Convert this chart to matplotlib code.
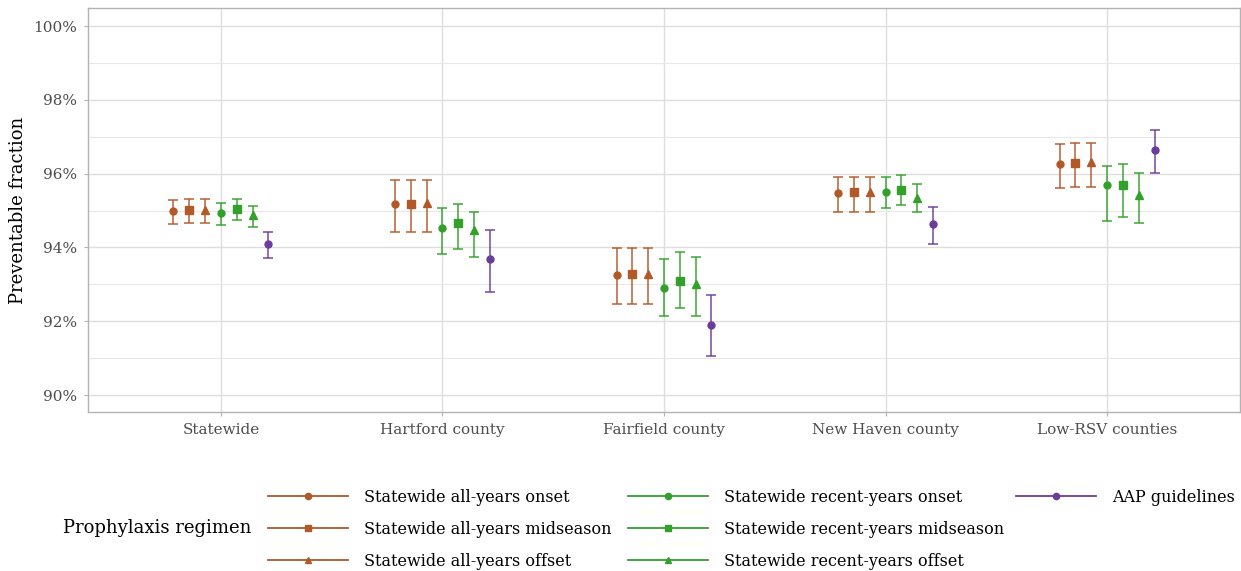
import numpy as np
import matplotlib.pyplot as plt
from matplotlib.lines import Line2D
from matplotlib.ticker import FuncFormatter, MultipleLocator

plt.rcParams['font.family'] = ['DejaVu Serif']

# Datos
regiones = ['Statewide', 'Hartford county', 'Fairfield county', 'New Haven county', 'Low-RSV counties']
regimenes = ['Statewide all-years onset', 'Statewide all-years midseason', 'Statewide all-years offset',
             'Statewide recent-years onset', 'Statewide recent-years midseason', 'Statewide recent-years offset',
             'AAP guidelines']
colores = ['#B15928', '#B15928', '#B15928', '#33A02C', '#33A02C', '#33A02C', '#6A3D9A']
marcadores = ['o', 's', '^', 'o', 's', '^', 'o']

# estimacion por regimen (filas) y region (columnas), en %
estimacion = [
    [94.99, 95.18, 93.26, 95.47, 96.27],
    [95.01, 95.17, 93.27, 95.49, 96.30],
    [95.01, 95.20, 93.27, 95.50, 96.32],
    [94.93, 94.53, 92.90, 95.51, 95.69],
    [95.03, 94.65, 93.09, 95.55, 95.68],
    [94.87, 94.47, 93.01, 95.35, 95.42],
    [94.08, 93.69, 91.91, 94.63, 96.64],
]
inferior = [
    [94.64, 94.42, 92.47, 94.96, 95.60],
    [94.65, 94.42, 92.47, 94.96, 95.64],
    [94.65, 94.42, 92.47, 94.96, 95.64],
    [94.62, 93.83, 92.13, 95.07, 94.72],
    [94.74, 93.96, 92.35, 95.16, 94.83],
    [94.56, 93.75, 92.14, 94.97, 94.66],
    [93.72, 92.78, 91.06, 94.09, 96.02],
]
superior = [
    [95.29, 95.83, 93.99, 95.91, 96.81],
    [95.30, 95.83, 93.99, 95.91, 96.84],
    [95.30, 95.83, 93.99, 95.91, 96.84],
    [95.20, 95.08, 93.69, 95.91, 96.21],
    [95.32, 95.17, 93.88, 95.96, 96.26],
    [95.13, 94.95, 93.75, 95.73, 96.03],
    [94.43, 94.47, 92.71, 95.09, 97.17],
]

fig = plt.figure(figsize=(12.41, 5.71), dpi=100)
ax = fig.add_axes([88 / 1241, 1 - 412 / 571, 1152 / 1241, 404 / 571])

x = np.arange(1, len(regiones) + 1)
paso = 0.5 / len(regimenes)
for j, nombre in enumerate(regimenes):
    est = np.array(estimacion[j])
    err = [est - np.array(inferior[j]), np.array(superior[j]) - est]
    xs = x + (j - 3) * paso
    ax.errorbar(xs, est, yerr=err, fmt='none', ecolor=colores[j], elinewidth=1.3,
                capsize=3.4, capthick=1.3, alpha=0.8, zorder=3)
    ax.plot(xs, est, linestyle='none', marker=marcadores[j], color=colores[j],
            markersize=5 if marcadores[j] == 'o' else 5.5, zorder=4)

ax.set_xlim(0.4, 5.6)
ax.set_ylim(89.54, 100.49)
ax.set_xticks(x)
ax.set_xticklabels(regiones)
ax.yaxis.set_major_locator(MultipleLocator(2))
ax.yaxis.set_minor_locator(MultipleLocator(1))
ax.yaxis.set_major_formatter(FuncFormatter(lambda v, p: f'{v:.0f}%'))

ax.grid(which='major', color='#DEDEDE', linewidth=1.0)
ax.grid(which='minor', axis='y', color='#E8E8E8', linewidth=0.8)
ax.set_axisbelow(True)
for s in ax.spines.values():
    s.set_color('#B3B3B3')
    s.set_linewidth(1.0)
ax.tick_params(axis='both', which='major', colors='#B3B3B3', labelcolor='#4D4D4D',
               labelsize=11, length=3, width=0.8, pad=5)
ax.tick_params(axis='y', which='minor', length=0)
ax.set_ylabel('Preventable fraction', fontsize=13, labelpad=4)

# Leyenda
fig.text(63 / 1241, 1 - 528 / 571, 'Prophylaxis regimen', fontsize=13, va='center', ha='left')
columnas = [[0, 1, 2], [3, 4, 5], [6]]
pos_x = [268, 628, 1016]
for col, px in zip(columnas, pos_x):
    handles = [Line2D([0], [0], color=colores[k], marker=marcadores[k], linewidth=1.3,
                      markersize=4.5 if marcadores[k] == 'o' else 5) for k in col]
    labels = [regimenes[k] for k in col]
    fig.legend(handles, labels, loc='upper left', bbox_to_anchor=(px / 1241, 1 - 489 / 571),
               frameon=False, fontsize=11.5, handlelength=5, handletextpad=1.0,
               labelspacing=0.93, borderpad=0, borderaxespad=0)

fig.savefig('out.png', dpi=100)
